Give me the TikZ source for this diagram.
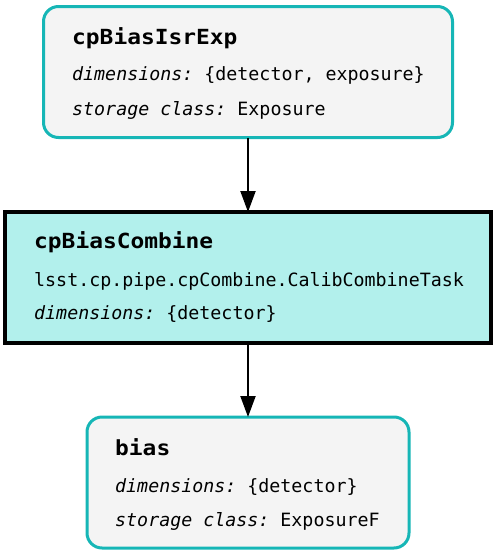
\documentclass[tikz,border=0pt]{standalone}
\usepackage{fontspec}
\setmonofont{DejaVu Sans Mono}
\newfontfamily\bodyfont{DejaVu Sans Mono}
\newfontfamily\titlefont{DejaVu Sans Mono Bold}[FakeStretch=1.10]
\newfontfamily\italfont{DejaVu Sans Mono Oblique}
\usetikzlibrary{arrows.meta}
\frenchspacing
\definecolor{teal1}{RGB}{22,182,182}
\definecolor{dsfill}{RGB}{244,244,244}
\definecolor{taskfill}{RGB}{178,240,236}
\tikzset{
  dsbox/.style={draw=teal1, fill=dsfill, line width=3pt, rounded corners=15pt},
  taskbox/.style={draw=black, fill=taskfill, line width=3.5pt},
  ttl/.style={anchor=base west, inner sep=0pt, font=\titlefont\fontsize{20.8}{24}\selectfont},
  txt/.style={anchor=base west, inner sep=0pt, font=\bodyfont\fontsize{18.3}{22}\selectfont\frenchspacing},
  conn/.style={line width=2pt, -{Triangle[length=21pt,width=15pt]}},
}
\begin{document}
\begin{tikzpicture}[x=1pt,y=-1pt]
\useasboundingbox (0,0) rectangle (496,555);
% boxes
\draw[dsbox] (43.5,6.5) rectangle (452.5,137.5);
\coordinate (tA) at (248,137.5);
\draw[taskbox] (5,212) rectangle (491,343);
\coordinate (mT) at (248,212);
\coordinate (mB) at (248,343);
\draw[dsbox] (87,417) rectangle (409,548);
\coordinate (bT) at (248,417);
% texts top
\node[ttl] (t1) at (72,44) {cpBiasIsrExp};
\node[txt] (t2) at (72,80) {{\italfont dimensions:} \{detector, exposure\}};
\node[txt] (t3) at (72,115) {{\italfont storage class:} Exposure};
% middle
\node[ttl] (m1) at (34,248) {cpBiasCombine};
\node[txt] (m2) at (34,286) {lsst.cp.pipe.cpCombine.CalibCombineTask};
\node[txt] (m3) at (34,319) {{\italfont dimensions:} \{detector\}};
% bottom
\node[ttl] (b1) at (115,455) {bias};
\node[txt] (b2) at (115,492) {{\italfont dimensions:} \{detector\}};
\node[txt] (b3) at (115,526) {{\italfont storage class:} ExposureF};
% connectors
\draw[conn] (tA) -- (mT);
\draw[conn] (mB) -- (bT);
\end{tikzpicture}
\end{document}
